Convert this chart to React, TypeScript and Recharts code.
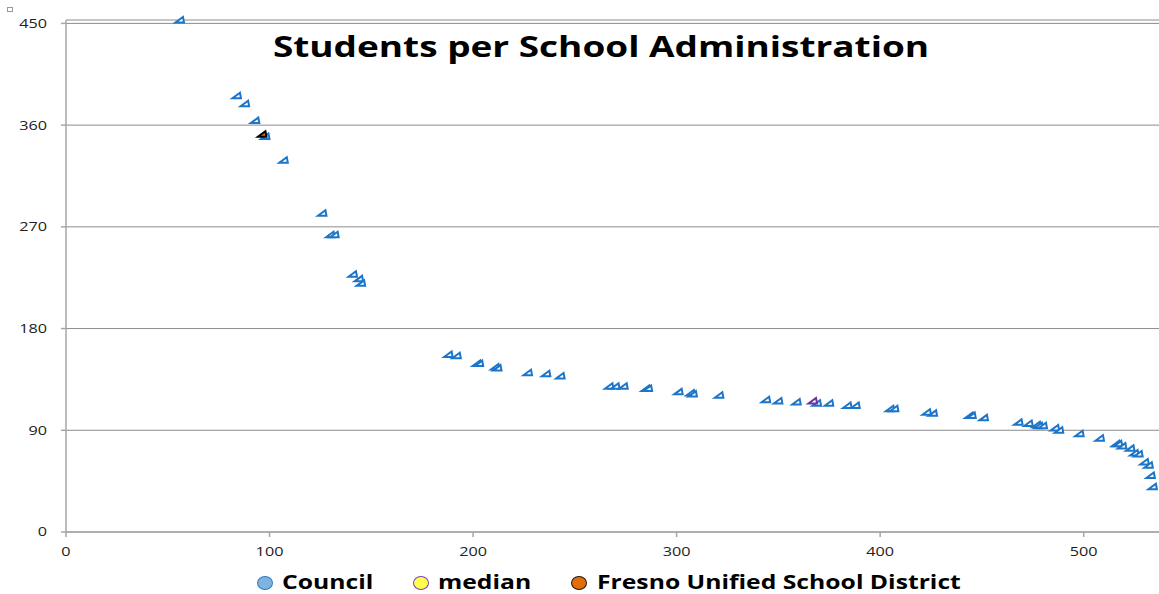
import { ScatterChart, Scatter, XAxis, YAxis, CartesianGrid } from "recharts";

// council districts: enrollment rank (x) vs students per administrator (y)
const councilX = [
  56, 84, 88, 93, 98, 107, 126, 130, 132, 141, 144, 145, 188, 192, 202, 203,
  211, 212, 227, 236, 243, 267, 270, 274, 285, 286, 301, 307, 308, 321, 344,
  350, 359, 369, 375, 384, 388, 405, 407, 423, 426, 444, 445, 451, 468, 473,
  477, 478, 480, 486, 488, 498, 508, 516, 517, 519, 523, 525, 527, 530, 532,
  533, 534,
];
const councilY = [
  453, 386, 379, 364, 350, 329, 282, 263, 263, 228, 224, 220, 157, 156, 149,
  149, 146, 145, 141, 140, 138, 129, 129, 129, 127, 127, 124, 123, 122, 121,
  117, 116, 115, 114, 114, 112, 112, 109, 109, 106, 105, 103, 103, 101, 97, 96,
  95, 94, 94, 92, 90, 87, 83, 78, 78, 76, 74, 70, 69, 62, 59, 50, 40,
];
const medianX = [367];
const medianY = [116];
const fresnoX = [97];
const fresnoY = [351];

const xTicks = [0, 100, 200, 300, 400, 500];
const yTicks = [0, 90, 180, 270, 360, 450];

const legendItems = [
  { name: "Council", fill: "#7fb2dd", stroke: "#2e7bc4" },
  { name: "median", fill: "#ffff4d", stroke: "#7f3fbf" },
  { name: "Fresno Unified School District", fill: "#e46c0a", stroke: "#1a1a1a" },
];

const zip = (xs: number[], ys: number[]) => xs.map((x, i) => ({ x, y: ys[i] }));

const council = zip(councilX, councilY);
const median = zip(medianX, medianY);
const fresno = zip(fresnoX, fresnoY);

const STRETCH = 1.3;
const FONT = "'Open Sans', sans-serif";

function WideTick(props: any) {
  const { x, y, payload, textAnchor, verticalAnchor } = props;
  const dy = verticalAnchor === "start" ? "0.71em" : "0.355em";
  return (
    <g transform={`translate(${x},${y}) scale(${STRETCH},1)`}>
      <text x={0} y={0} dy={dy} textAnchor={textAnchor} fontSize={12.5} fontFamily={FONT} fill="#222">
        {payload.value}
      </text>
    </g>
  );
}

const wedge = (stroke: string, fill: string, dx = 0, dy = 0) =>
  function Wedge(props: any) {
    const cx = props.cx + dx;
    const cy = props.cy + dy;
    const pts = `${cx - 4.5},${cy + 2.5} ${cx + 4},${cy + 2.5} ${cx + 3},${cy - 3}`;
    return <polygon points={pts} fill={fill} stroke={stroke} strokeWidth={2} strokeLinejoin="miter" />;
  };

const legendPos = [
  { dot: 257, text: 282 },
  { dot: 413, text: 438 },
  { dot: 571, text: 597 },
];

export default function App() {
  return (
    <div style={{ position: "absolute", left: 0, top: 0, width: 1159, height: 594, background: "#fff", overflow: "hidden" }}>
      <div style={{ position: "absolute", left: 7, top: 7, width: 4, height: 3, border: "1px solid #999" }} />
      <ScatterChart width={1159} height={594} margin={{ top: 20, right: 0, bottom: 32, left: 0 }}>
        <CartesianGrid vertical={false} stroke="#8c8c8c" />
        <XAxis
          type="number"
          dataKey="x"
          domain={[0, 537]}
          ticks={xTicks}
          height={30}
          tickSize={5}
          tickMargin={10}
          stroke="#a6a6a6"
          strokeWidth={1.5}
          tick={<WideTick />}
        />
        <YAxis
          type="number"
          dataKey="y"
          domain={[0, 450]}
          ticks={yTicks}
          width={66}
          tickSize={5}
          tickMargin={14}
          stroke="#a6a6a6"
          strokeWidth={1.5}
          tick={<WideTick />}
        />
        <Scatter name="Council" data={council} shape={wedge("#1c75c8", "#fff")} isAnimationActive={false} />
        <Scatter name="median" data={median} shape={wedge("#7030a0", "#fff")} isAnimationActive={false} />
        <Scatter
          name="Fresno Unified School District"
          data={fresno}
          shape={wedge("#000", "#e46c0a", -1, -1)}
          isAnimationActive={false}
        />
      </ScatterChart>
      <div
        style={{
          position: "absolute",
          left: 601,
          top: 27,
          transform: `translateX(-50%) scaleX(1.32)`,
          fontFamily: FONT,
          fontWeight: 700,
          fontSize: 28,
          whiteSpace: "nowrap",
          color: "#000",
        }}
      >
        Students per School Administration
      </div>
      {legendItems.map((item, i) => (
        <div key={item.name}>
          <div
            style={{
              position: "absolute",
              left: legendPos[i].dot,
              top: 576,
              width: 16,
              height: 14,
              borderRadius: "50%",
              background: item.fill,
              border: `1.5px solid ${item.stroke}`,
              boxSizing: "border-box",
            }}
          />
          <div
            style={{
              position: "absolute",
              left: legendPos[i].text,
              top: 569,
              transform: `scaleX(${STRETCH})`,
              transformOrigin: "left",
              fontFamily: FONT,
              fontWeight: 700,
              fontSize: 19,
              whiteSpace: "nowrap",
              color: "#000",
            }}
          >
            {item.name}
          </div>
        </div>
      ))}
    </div>
  );
}
